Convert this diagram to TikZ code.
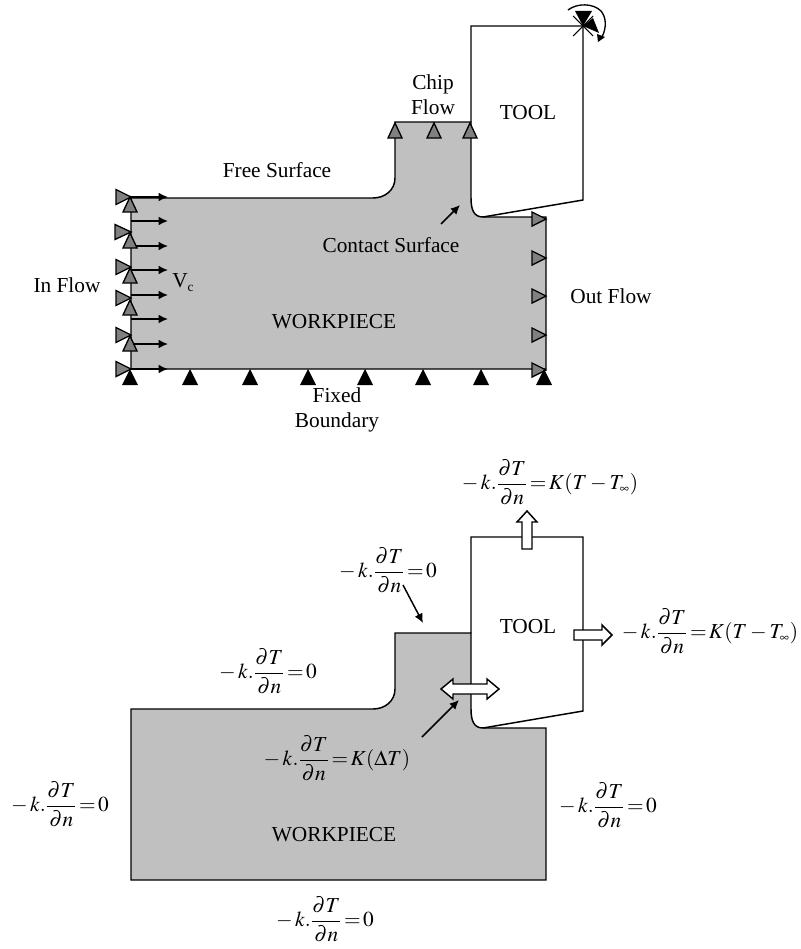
\documentclass[tikz,border=0pt]{standalone}
\usepackage{amsmath}
\usepackage{mathptmx}
\usepackage{fontspec}
\setmainfont{Liberation Serif}
\usepackage{xcolor}
\usepackage{tikz}
\usetikzlibrary{arrows.meta}

\definecolor{bodygray}{HTML}{C0C0C0}
\definecolor{rollergray}{HTML}{808080}
\newcommand{\fluxeq}[1]{$-\,k.\dfrac{\partial T}{\partial n}\!=\!#1$}
\newcommand{\tinf}{T_{\scriptscriptstyle\infty}}

\tikzset{
  lbl/.style={inner sep=0pt,align=center,font=\fontsize{16}{19}\selectfont},
  line/.style={line width=1.1pt,line join=miter},
  roller/.style={draw=black,line width=1pt,fill=rollergray,line join=miter},
  fixedtri/.style={fill=black},
  pointer/.style={-{Latex[length=7pt,width=6.5pt]},line width=1.1pt},
  blockarrow/.style={draw=black,line width=1.1pt,fill=white,line join=miter},
  cutbody/.pic={
    \draw[line,fill=bodygray] (131,198) -- (373,198) .. controls (385,198) and (395,190) .. (395,178)
      -- (395,122) -- (471,122) -- (471,198) .. controls (471,210) and (474,217) .. (483,217)
      -- (546,217) -- (546,369) -- (131,369) -- cycle;
    \draw[line] (471,122) -- (471,26) -- (583,26) -- (583,200) -- (483,217);
  }
}

\begin{document}
\begin{tikzpicture}[x=0.75pt,y=-0.75pt]
  \useasboundingbox (0,0) rectangle (800,949);
  \pic at (0,0) {cutbody};
  \pic at (0,511) {cutbody};

  % flow arrows
  \foreach \y in {197,221,246,270,295,319,344,369} {
    \draw[pointer] (131,\y) -- (168,\y);
  }
  % rollers, left side
  \foreach \y/\b in {197/116,232/115,267/116,298/116,335/116,369/116} {
    \draw[roller] (131,\y) -- (\b,\y-7.5) -- (\b,\y+7.5) -- cycle;
  }
  \foreach \y in {197,233,268,300,336} {
    \draw[roller] (130,\y) -- ++(-7,15) -- ++(14,0) -- cycle;
  }
  % rollers, chip and right side
  \foreach \x in {395,434,470} {
    \draw[roller] (\x,123) -- ++(-7,15) -- ++(14,0) -- cycle;
  }
  \foreach \y in {219,258,296,335,370} {
    \draw[roller] (546,\y) -- (532,\y-7) -- (532,\y+7) -- cycle;
  }
  % fixed supports
  \foreach \x in {130,190,250,308,365,423,481,544} {
    \fill[fixedtri] (\x,369) -- ++(-8,16) -- ++(16,0) -- cycle;
  }

  % pin on the tool corner
  \coordinate (pin) at (583,26);
  \draw[line width=0.8pt] (573,16) -- (593,36) (573,36) -- (593,16);
  \fill[fixedtri] (pin) -- (575,11) -- (592,11) -- cycle;
  \fill[fixedtri] (pin) -- (593,18) -- (599,33) -- cycle;
  \draw[line width=1pt] (568,10) .. controls (577,3) and (593,3) .. (601,11)
    .. controls (606,17) and (607,27) .. (602,37);
  \fill[fixedtri] (597,34) -- (605,37) -- (598,42) -- cycle;

  % top labels
  \node[lbl] (chipflow) at (433,95) {Chip\\Flow};
  \node[lbl] (tooltop) at (528,113) {TOOL};
  \node[lbl] (freesurf) at (277,170) {Free Surface};
  \node[lbl] (contact) at (391,245) {Contact Surface};
  \node[lbl] (inflow) at (67,285) {In Flow};
  \node[lbl] (vc) at (183,283) {V\raisebox{-3pt}{\fontsize{10}{10}\selectfont c}};
  \node[lbl] (outflow) at (611,296) {Out Flow};
  \node[lbl] (worktop) at (334,322) {WORKPIECE};
  \node[lbl] (fixedb) at (337,410) {Fixed\\Boundary};
  \coordinate (contacttip) at (460,205);
  \draw[pointer] (441,224) -- (contacttip);

  % block arrows
  \draw[blockarrow] (522,549) -- (522,522) -- (517,522) -- (527,511) -- (537,522) -- (532,522) -- (532,549) -- cycle;
  \draw[blockarrow] (574,630) -- (602,630) -- (602,625) -- (612,635) -- (602,645) -- (602,640) -- (574,640) -- cycle;
  \draw[blockarrow] (441,689) -- (453,679) -- (453,684) -- (487,684) -- (487,679) -- (499,689)
    -- (487,699) -- (487,694) -- (453,694) -- (453,699) -- cycle;

  % bottom labels
  \node[lbl] (eqtop) at (550,482) {\fluxeq{K(T-\tinf)}};
  \node[lbl] (eqchip) at (388,570) {\fluxeq{0}};
  \node[lbl] (eqfree) at (268,671) {\fluxeq{0}};
  \node[lbl] (eqtool) at (710,631) {\fluxeq{K(T-\tinf)}};
  \node[lbl] (eqcontact) at (337,758) {\fluxeq{K(\Delta T)}};
  \node[lbl] (eqleft) at (60,804) {\fluxeq{0}};
  \node[lbl] (eqright) at (608,805) {\fluxeq{0}};
  \node[lbl] (eqbottom) at (325,919) {\fluxeq{0}};
  \node[lbl] (toolbot) at (528,627) {TOOL};
  \node[lbl] (workbot) at (334,835) {WORKPIECE};
  \coordinate (chiptip) at (423,623);
  \coordinate (interfacetip) at (459,700);
  \draw[pointer] (403,585) -- (chiptip);
  \draw[pointer] (422,737) -- (interfacetip);
\end{tikzpicture}
\end{document}
